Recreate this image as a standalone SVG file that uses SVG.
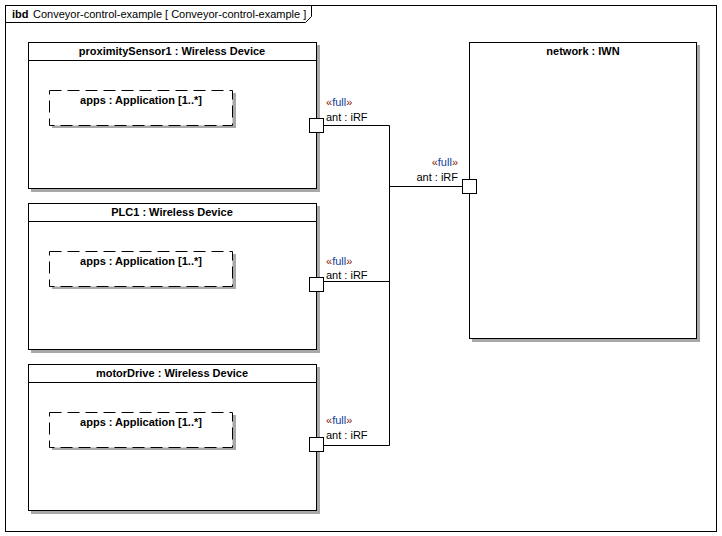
<svg xmlns="http://www.w3.org/2000/svg" width="722" height="536" viewBox="0 0 722 536">
<style>
text{font-family:"Liberation Sans",Arial,sans-serif;font-size:11px;fill:#000}
.b{font-weight:bold}
.box{fill:#fff;stroke:#000;stroke-width:1}
.sh{fill:#a8a8a8}
.part{fill:#fff;stroke:#000;stroke-width:1;stroke-dasharray:12,6}
.port{fill:#fff;stroke:#000;stroke-width:1}
.ln{fill:none;stroke:#000;stroke-width:1}
.g{fill:#802000}
.st{fill:#1040a0}
</style>
<rect x="0" y="0" width="722" height="536" fill="#fff"/>
<g id="frame">
<rect x="5.5" y="5.5" width="711" height="526" fill="none" stroke="#000"/>
<path d="M5.5 22.5H305.5L311.5 16.5V5.5" class="ln"/>
<text x="12" y="18"><tspan class="b">ibd</tspan><tspan x="33">Conveyor-control-example [ Conveyor-control-example ]</tspan></text>
</g>
<g id="proximitySensor1">
<rect x="31" y="45" width="289" height="147" class="sh"/>
<rect x="28.5" y="42.5" width="288" height="146" class="box"/>
<line x1="28.5" y1="60.5" x2="316.5" y2="60.5" class="ln"/>
<text x="172" y="55" text-anchor="middle" class="b">proximitySensor1 : Wireless Device</text>
<g id="apps1">
<rect x="52" y="93" width="184" height="35" class="sh"/>
<rect x="49.5" y="90.5" width="183" height="35" class="part"/>
<text x="141" y="104" text-anchor="middle" class="b">apps : Application [1..*]</text>
</g>
</g>
<g id="PLC1">
<rect x="31" y="206" width="289" height="147" class="sh"/>
<rect x="28.5" y="203.5" width="288" height="146" class="box"/>
<line x1="28.5" y1="221.5" x2="316.5" y2="221.5" class="ln"/>
<text x="172" y="216" text-anchor="middle" class="b">PLC1 : Wireless Device</text>
<g id="apps2">
<rect x="52" y="254" width="184" height="35" class="sh"/>
<rect x="49.5" y="251.5" width="183" height="35" class="part"/>
<text x="141" y="265" text-anchor="middle" class="b">apps : Application [1..*]</text>
</g>
</g>
<g id="motorDrive">
<rect x="31" y="367" width="289" height="147" class="sh"/>
<rect x="28.5" y="364.5" width="288" height="146" class="box"/>
<line x1="28.5" y1="382.5" x2="316.5" y2="382.5" class="ln"/>
<text x="172" y="377" text-anchor="middle" class="b">motorDrive : Wireless Device</text>
<g id="apps3">
<rect x="52" y="415" width="184" height="35" class="sh"/>
<rect x="49.5" y="412.5" width="183" height="35" class="part"/>
<text x="141" y="426" text-anchor="middle" class="b">apps : Application [1..*]</text>
</g>
</g>
<g id="network">
<rect x="472" y="45" width="228" height="297" class="sh"/>
<rect x="469.5" y="42.5" width="227" height="296" class="box"/>
<text x="583" y="55" text-anchor="middle" class="b">network : IWN</text>
</g>
<g id="connectors">
<path d="M324 125.5H389.5V445.5H324" class="ln"/>
<path d="M324 281.5H389.5" class="ln"/>
<path d="M389.5 186.5H462" class="ln"/>
</g>
<g id="ports">
<g id="port1">
<rect x="309.5" y="118.5" width="14" height="14" class="port"/>
<text x="326" y="106"><tspan class="g">«</tspan><tspan class="st">full</tspan><tspan class="g">»</tspan></text>
<text x="326" y="121">ant : iRF</text>
</g>
<g id="port2">
<rect x="309.5" y="277.5" width="14" height="14" class="port"/>
<text x="326" y="265"><tspan class="g">«</tspan><tspan class="st">full</tspan><tspan class="g">»</tspan></text>
<text x="326" y="279">ant : iRF</text>
</g>
<g id="port3">
<rect x="309.5" y="437.5" width="14" height="14" class="port"/>
<text x="326" y="424"><tspan class="g">«</tspan><tspan class="st">full</tspan><tspan class="g">»</tspan></text>
<text x="326" y="439">ant : iRF</text>
</g>
<g id="portN">
<rect x="462.5" y="179.5" width="14" height="14" class="port"/>
<text x="458" y="166" text-anchor="end"><tspan class="g">«</tspan><tspan class="st">full</tspan><tspan class="g">»</tspan></text>
<text x="458" y="181" text-anchor="end">ant : iRF</text>
</g>
</g>
</svg>
